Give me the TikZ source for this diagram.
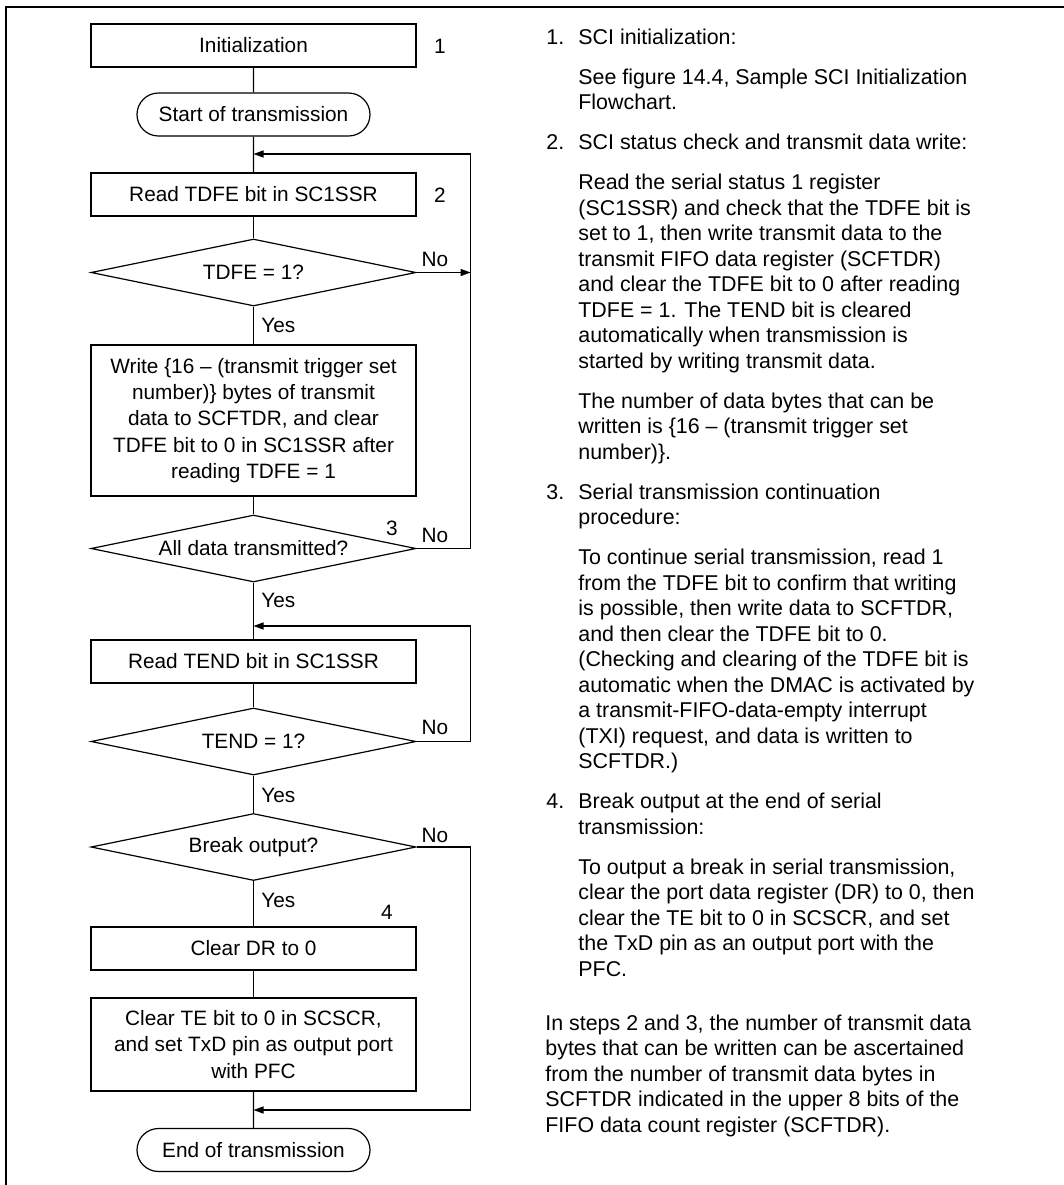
\documentclass[tikz,border=0pt]{standalone}
\usepackage{fontspec}
\setmainfont{Liberation Sans}
\usepackage{tikz}
\usetikzlibrary{arrows.meta, positioning, shapes.geometric, shapes.misc}

\newcommand{\chartfont}{\fontsize{10.4}{13.15}\selectfont}
\newcommand{\notefont}{\fontsize{10.7}{13}\selectfont}

\tikzset{
  box/.style={draw, line width=0.6pt, minimum width=162.5pt, minimum height=21.5pt,
    inner sep=0pt, align=center, font=\chartfont},
  term/.style={draw, line width=0.6pt, rounded rectangle, minimum width=116.5pt,
    minimum height=21.5pt, inner sep=0pt, font=\chartfont},
  decision/.style={draw, line width=0.6pt, diamond, aspect=5, minimum width=162.5pt,
    minimum height=33.5pt, inner sep=0pt, font=\chartfont},
  flow/.style={line width=0.6pt},
  arr/.style={line width=0.6pt, -{Triangle[length=5pt, width=3.5pt]}},
  lab/.style={font=\chartfont, inner sep=0pt},
  note/.style={font=\notefont, anchor=base west, inner sep=0pt},
}

\begin{document}
\begin{tikzpicture}[x=0.5pt, y=-0.5pt]
  \useasboundingbox (0,0) rectangle (1064,1185);

  % Frame
  \draw[line width=1.3pt] (1064,7) -- (6,7) -- (6,1185);

  % Flowchart
  \node[box] (init) at (253.5,45.5) {Initialization};
  \node[term] (start) at (253.5,114.5) {Start of transmission};
  \node[box] (rtdfe) at (253.5,194.5) {Read TDFE bit in SC1SSR};
  \node[decision] (dtdfe) at (253.5,272.5) {TDFE = 1?};
  \node[box, minimum height=75.5pt] (write) at (253.5,420.5)
    {Write \{16 -- (transmit trigger set\\number)\} bytes of transmit\\data to SCFTDR, and clear\\TDFE bit to 0 in SC1SSR after\\reading TDFE = 1};
  \node[decision] (dall) at (253.5,548.5) {All data transmitted?};
  \node[box] (rtend) at (253.5,661.5) {Read TEND bit in SC1SSR};
  \node[decision] (dtend) at (253.5,741.5) {TEND = 1?};
  \node[decision] (dbrk) at (253.5,847) {Break output?};
  \node[box] (clrdr) at (253.5,948.5) {Clear DR to 0};
  \node[box, minimum height=46.5pt] (clrte) at (253.5,1044.5)
    {Clear TE bit to 0 in SCSCR,\\and set TxD pin as output port\\with PFC};
  \node[term] (endt) at (253.5,1150) {End of transmission};

  % Merge points
  \coordinate (m1) at (253.5,154);
  \coordinate (m2) at (253.5,626);
  \coordinate (m3) at (253.5,1110);

  % Main line
  \draw[flow] (init) -- (start);
  \draw[flow] (start) -- (rtdfe);
  \draw[flow] (rtdfe) -- (dtdfe);
  \draw[flow] (dtdfe) -- (write);
  \draw[flow] (write) -- (dall);
  \draw[flow] (dall) -- (rtend);
  \draw[flow] (rtend) -- (dtend);
  \draw[flow] (dtend) -- (dbrk);
  \draw[flow] (dbrk) -- (clrdr);
  \draw[flow] (clrdr) -- (clrte);
  \draw[flow] (clrte) -- (endt);

  % Loops
  \draw[arr] (dtdfe.east) -- ++(54,0);
  \draw[arr] (dall.east) -- ++(54,0) |- (m1);
  \draw[arr] (dtend.east) -- ++(54,0) |- (m2);
  \draw[arr] (dbrk.east) -- ++(54,0) |- (m3);

  % Step numbers
  \node[lab] (n1) at (440,46) {1};
  \node[lab] (n2) at (440,195) {2};
  \node[lab] (n3) at (392,528) {3};
  \node[lab] (n4) at (387,912) {4};

  % Branch labels
  \foreach \y [count=\i] in {259, 535, 727, 835}
    \node[lab] (no\i) at (435,\y) {No};
  \foreach \y [count=\i] in {325, 600, 795, 900}
    \node[lab, anchor=west] (yes\i) at (261,\y) {Yes};

  % Notes
  \foreach \y/\num [count=\i] in {44/1., 149.5/2., 499/3., 808.5/4.}
    \node[note] (hd\i) at (546,\y) {\num};

  \foreach \y/\txt [count=\i] in {
      44/SCI initialization:,
      84/{See figure 14.4, Sample SCI Initialization},
      109.5/Flowchart.,
      149.5/SCI status check and transmit data write:,
      189.5/Read the serial status 1 register,
      215/(SC1SSR) and check that the TDFE bit is,
      240.5/{set to 1, then write transmit data to the},
      266/transmit FIFO data register (SCFTDR),
      291.5/and clear the TDFE bit to 0 after reading,
      317/TDFE = 1. The TEND bit is cleared,
      342.5/automatically when transmission is,
      368/started by writing transmit data.,
      408/The number of data bytes that can be,
      433.5/written is \{16 -- (transmit trigger set,
      459/number)\}.,
      499/Serial transmission continuation,
      524.5/procedure:,
      564.5/{To continue serial transmission, read 1},
      590/from the TDFE bit to confirm that writing,
      615.5/{is possible, then write data to SCFTDR,},
      641/and then clear the TDFE bit to 0.,
      666.5/(Checking and clearing of the TDFE bit is,
      692/automatic when the DMAC is activated by,
      717.5/a transmit-FIFO-data-empty interrupt,
      743/{(TXI) request, and data is written to},
      768.5/SCFTDR.),
      808.5/Break output at the end of serial,
      834/transmission:,
      874/{To output a break in serial transmission,},
      899.5/{clear the port data register (DR) to 0, then},
      925/{clear the TE bit to 0 in SCSCR, and set},
      950.5/the TxD pin as an output port with the,
      976/PFC.}
    \node[note] (tx\i) at (578,\y) {\txt};

  \foreach \y/\txt [count=\i] in {
      1030/{In steps 2 and 3, the number of transmit data},
      1055.5/bytes that can be written can be ascertained,
      1081/from the number of transmit data bytes in,
      1106.5/SCFTDR indicated in the upper 8 bits of the,
      1132/FIFO data count register (SCFTDR).}
    \node[note] (ft\i) at (545,\y) {\txt};

\end{tikzpicture}
\end{document}
